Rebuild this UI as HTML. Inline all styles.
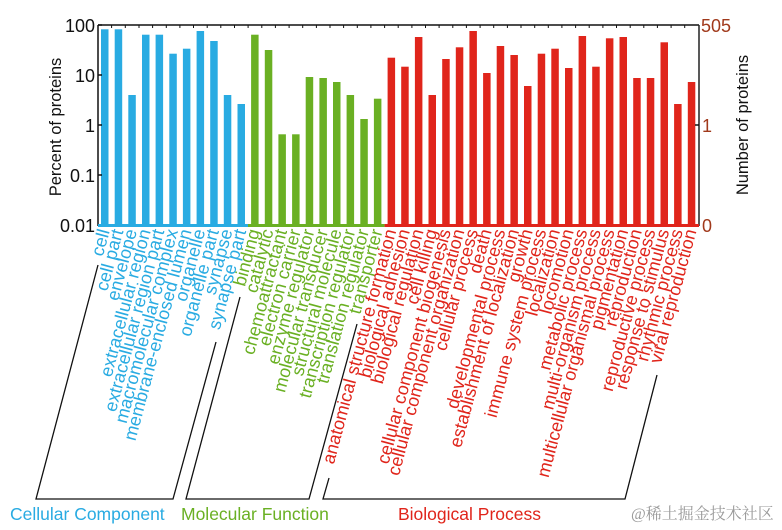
<!DOCTYPE html>
<html><head><meta charset="utf-8"><style>
html,body{margin:0;padding:0;background:#fff;width:782px;height:530px;overflow:hidden}
svg{display:block;font-family:"Liberation Sans",Arial,sans-serif}
</style></head><body>
<svg width="782" height="530" viewBox="0 0 782 530" xmlns="http://www.w3.org/2000/svg">
<g fill="#29abe2">
<rect x="101.0" y="29.3" width="7.5" height="195.7"/>
<rect x="114.7" y="29.3" width="7.5" height="195.7"/>
<rect x="128.3" y="95" width="7.5" height="130"/>
<rect x="142.0" y="34.7" width="7.5" height="190.3"/>
<rect x="155.6" y="34.7" width="7.5" height="190.3"/>
<rect x="169.3" y="53.7" width="7.5" height="171.3"/>
<rect x="182.9" y="48.7" width="7.5" height="176.3"/>
<rect x="196.6" y="31" width="7.5" height="194"/>
<rect x="210.2" y="41" width="7.5" height="184"/>
<rect x="223.8" y="95" width="7.5" height="130"/>
<rect x="237.5" y="104" width="7.5" height="121"/>
</g>
<g fill="#6ab023">
<rect x="251.1" y="34.7" width="7.5" height="190.3"/>
<rect x="264.8" y="50" width="7.5" height="175"/>
<rect x="278.4" y="134.3" width="7.5" height="90.7"/>
<rect x="292.1" y="134.3" width="7.5" height="90.7"/>
<rect x="305.7" y="77" width="7.5" height="148"/>
<rect x="319.4" y="78" width="7.5" height="147"/>
<rect x="333.0" y="82" width="7.5" height="143"/>
<rect x="346.6" y="95" width="7.5" height="130"/>
<rect x="360.3" y="119" width="7.5" height="106"/>
<rect x="373.9" y="98.7" width="7.5" height="126.3"/>
</g>
<g fill="#e0251b">
<rect x="387.6" y="57.7" width="7.5" height="167.3"/>
<rect x="401.2" y="66.7" width="7.5" height="158.3"/>
<rect x="414.9" y="37" width="7.5" height="188"/>
<rect x="428.5" y="95" width="7.5" height="130"/>
<rect x="442.2" y="59" width="7.5" height="166"/>
<rect x="455.8" y="47.3" width="7.5" height="177.7"/>
<rect x="469.4" y="31" width="7.5" height="194"/>
<rect x="483.1" y="73" width="7.5" height="152"/>
<rect x="496.7" y="46" width="7.5" height="179"/>
<rect x="510.4" y="55" width="7.5" height="170"/>
<rect x="524.0" y="86" width="7.5" height="139"/>
<rect x="537.7" y="53.7" width="7.5" height="171.3"/>
<rect x="551.3" y="48.7" width="7.5" height="176.3"/>
<rect x="565.0" y="68" width="7.5" height="157"/>
<rect x="578.6" y="36" width="7.5" height="189"/>
<rect x="592.2" y="66.7" width="7.5" height="158.3"/>
<rect x="605.9" y="38.3" width="7.5" height="186.7"/>
<rect x="619.5" y="37" width="7.5" height="188"/>
<rect x="633.2" y="78" width="7.5" height="147"/>
<rect x="646.8" y="78" width="7.5" height="147"/>
<rect x="660.5" y="42.3" width="7.5" height="182.7"/>
<rect x="674.1" y="104" width="7.5" height="121"/>
<rect x="687.8" y="82" width="7.5" height="143"/>
</g>
<g stroke="#111" stroke-width="1.5" fill="none">
<line x1="98" y1="25" x2="699" y2="25"/>
<line x1="98" y1="25" x2="98" y2="226"/>
<line x1="699" y1="25" x2="699" y2="226" stroke="#222"/>
<line x1="98" y1="25" x2="102" y2="25"/><line x1="98" y1="75" x2="102" y2="75"/><line x1="98" y1="125" x2="102" y2="125"/><line x1="98" y1="175" x2="102" y2="175"/>
<line x1="695" y1="125" x2="699" y2="125"/>
</g>
<g stroke="#111" stroke-width="1">
<path d="M111.6 25v3M125.3 25v3M139 25v3M152.6 25v3M166.3 25v3M179.9 25v3M193.5 25v3M207.2 25v3M220.8 25v3M234.5 25v3M248.1 25v3M261.8 25v3M275.4 25v3M289.1 25v3M302.7 25v3M316.4 25v3M330 25v3M343.6 25v3M357.3 25v3M370.9 25v3M384.6 25v3M398.2 25v3M411.9 25v3M425.5 25v3M439.1 25v3M452.8 25v3M466.4 25v3M480.1 25v3M493.7 25v3M507.4 25v3M521 25v3M534.7 25v3M548.3 25v3M561.9 25v3M575.6 25v3M589.2 25v3M602.9 25v3M616.5 25v3M630.2 25v3M643.8 25v3M657.4 25v3M671.1 25v3M684.7 25v3"/>
</g>
<line x1="98" y1="225.5" x2="248" y2="225.5" stroke="#29abe2" stroke-width="3"/>
<line x1="248" y1="225.5" x2="384.6" y2="225.5" stroke="#6ab023" stroke-width="3"/>
<line x1="384.6" y1="225.5" x2="699" y2="225.5" stroke="#e0251b" stroke-width="3"/>
<g font-size="18" fill="#111" text-anchor="end">
<text x="95" y="32">100</text><text x="95" y="82">10</text><text x="95" y="132">1</text><text x="95" y="182">0.1</text><text x="95" y="232">0.01</text>
</g>
<g font-size="18" fill="#a0391b">
<text x="701" y="32">505</text><text x="702" y="132">1</text><text x="702" y="232">0</text>
</g>
<text transform="translate(61,127) rotate(-90)" text-anchor="middle" font-size="16.5" fill="#111">Percent of proteins</text>
<text transform="translate(748,125) rotate(-90)" text-anchor="middle" font-size="16.5" fill="#111">Number of proteins</text>
<g font-size="18" text-anchor="end" fill="#29abe2">
<text transform="translate(109.8,231) rotate(-75)">cell</text>
<text transform="translate(123.5,231) rotate(-75)">cell part</text>
<text transform="translate(137.1,231) rotate(-75)">envelope</text>
<text transform="translate(150.8,231) rotate(-75)">extracellular region</text>
<text transform="translate(164.4,231) rotate(-75)">extracellular region part</text>
<text transform="translate(178.1,231) rotate(-75)">macromolecular complex</text>
<text transform="translate(191.7,231) rotate(-75)">membrane-enclosed lumen</text>
<text transform="translate(205.4,231) rotate(-75)">organelle</text>
<text transform="translate(219,231) rotate(-75)">organelle part</text>
<text transform="translate(232.6,231) rotate(-75)">synapse</text>
<text transform="translate(246.3,231) rotate(-75)">synapse part</text>
</g>
<g font-size="18" text-anchor="end" fill="#6ab023">
<text transform="translate(259.9,231) rotate(-75)">binding</text>
<text transform="translate(273.6,231) rotate(-75)">catalytic</text>
<text transform="translate(287.2,231) rotate(-75)">chemoattractant</text>
<text transform="translate(300.9,231) rotate(-75)">electron carrier</text>
<text transform="translate(314.5,231) rotate(-75)">enzyme regulator</text>
<text transform="translate(328.2,231) rotate(-75)">molecular transducer</text>
<text transform="translate(341.8,231) rotate(-75)">structural molecule</text>
<text transform="translate(355.4,231) rotate(-75)">transcription regulator</text>
<text transform="translate(369.1,231) rotate(-75)">translation regulator</text>
<text transform="translate(382.7,231) rotate(-75)">transporter</text>
</g>
<g font-size="18" text-anchor="end" fill="#e0251b">
<text transform="translate(396.4,231) rotate(-75)">anatomical structure formation</text>
<text transform="translate(410,231) rotate(-75)">biological adhesion</text>
<text transform="translate(423.7,231) rotate(-75)">biological regulation</text>
<text transform="translate(437.3,231) rotate(-75)">cell killing</text>
<text transform="translate(451,231) rotate(-75)">cellular component biogenesis</text>
<text transform="translate(464.6,231) rotate(-75)">cellular component organization</text>
<text transform="translate(478.2,231) rotate(-75)">cellular process</text>
<text transform="translate(491.9,231) rotate(-75)">death</text>
<text transform="translate(505.5,231) rotate(-75)">developmental process</text>
<text transform="translate(519.2,231) rotate(-75)">establishment of localization</text>
<text transform="translate(532.8,231) rotate(-75)">growth</text>
<text transform="translate(546.5,231) rotate(-75)">immune system process</text>
<text transform="translate(560.1,231) rotate(-75)">localization</text>
<text transform="translate(573.8,231) rotate(-75)">locomotion</text>
<text transform="translate(587.4,231) rotate(-75)">metabolic process</text>
<text transform="translate(601,231) rotate(-75)">multi-organism process</text>
<text transform="translate(614.7,231) rotate(-75)">multicellular organismal process</text>
<text transform="translate(628.3,231) rotate(-75)">pigmentation</text>
<text transform="translate(642,231) rotate(-75)">reproduction</text>
<text transform="translate(655.6,231) rotate(-75)">reproductive process</text>
<text transform="translate(669.3,231) rotate(-75)">response to stimulus</text>
<text transform="translate(682.9,231) rotate(-75)">rhythmic process</text>
<text transform="translate(696.6,231) rotate(-75)">viral reproduction</text>
</g>
<g stroke="#111" stroke-width="1.3" fill="none">
<polyline points="98,265 36,499 173,499 216,342"/>
<polyline points="240,297 186,499 309,499 357,324"/>
<polyline points="329,478 323,499 625,499 657,375"/>
</g>
<g font-size="17.5">
<text x="10" y="520" fill="#29abe2">Cellular Component</text>
<text x="181" y="520" fill="#6ab023">Molecular Function</text>
<text x="398" y="520" fill="#e0251b">Biological Process</text>
</g>
<text x="631" y="519" font-size="16" fill="#9a9a9a" font-family="'Liberation Serif','Noto Serif CJK SC',serif">@稀土掘金技术社区</text>
</svg>
</body></html>
